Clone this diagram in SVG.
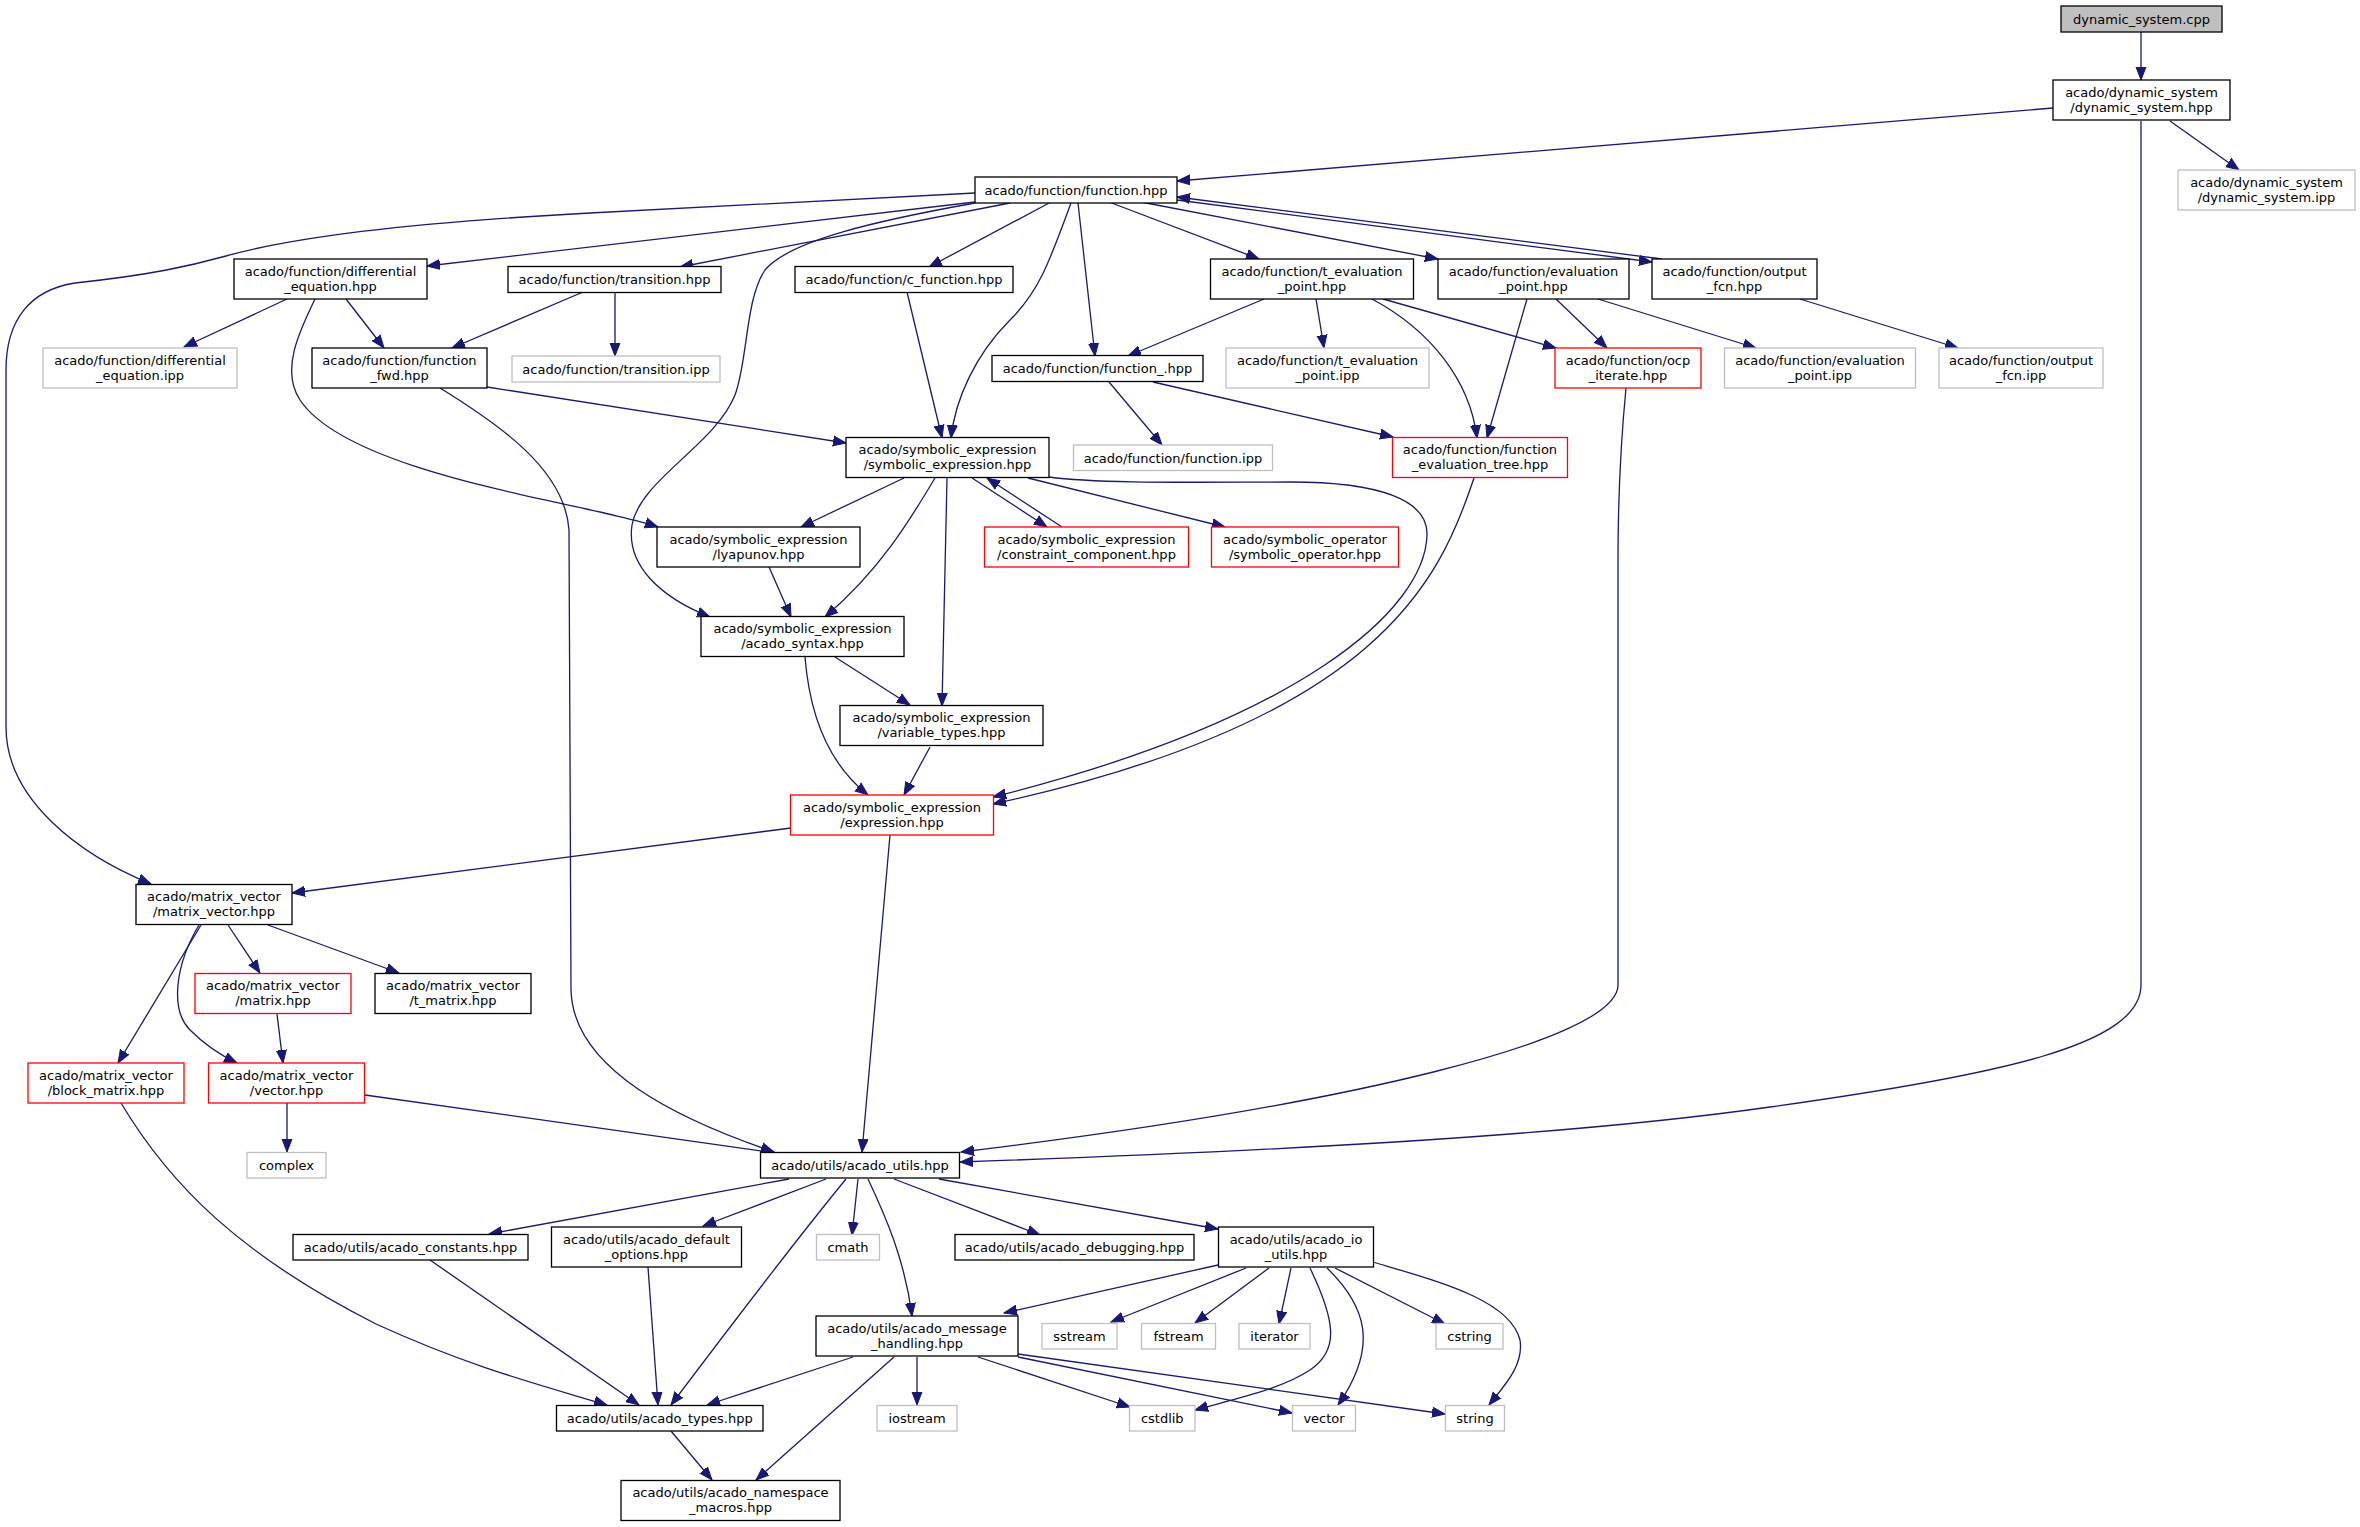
<svg xmlns="http://www.w3.org/2000/svg" width="2360" height="1527" viewBox="0 0 2360 1527">
<style>
text{font-family:"DejaVu Sans","Liberation Sans",sans-serif;font-size:13px;text-anchor:middle;fill:#000}
.n rect{fill:#fff;stroke:#000;stroke-width:1.3}
.g rect{fill:#fff;stroke:#bfbfbf;stroke-width:1.3}
.r rect{fill:#fff;stroke:#ff0000;stroke-width:1.3}
.root rect{fill:#bfbfbf;stroke:#000;stroke-width:1.3}
#edges path{fill:none;stroke:#191970;stroke-width:1.3;marker-end:url(#ah)}
</style>
<defs>
<marker id="ah" markerUnits="userSpaceOnUse" viewBox="0 -6 14 12" refX="13" refY="0" markerWidth="14" markerHeight="12" orient="auto">
<path d="M0,-5 L13,0 L0,5 Z" fill="#191970" stroke="#191970" stroke-width="1"/>
</marker>
</defs>
<rect width="2360" height="1527" fill="#fff"/>
<g id="edges">
<path d="M2141,32 L2141,80"/>
<path d="M2053,108 L1177,181"/>
<path d="M2170,121 L2239,170"/>
<path d="M2141,121 L2141,985 C2141,1045 2000,1075 1770,1107 C1560,1137 1250,1152 960,1162"/>
<path d="M975,193 L590,213 C420,222 300,235 226,256 C190,266 150,275 75,283 C30,290 6,320 6,370 L6,727 C6,800 80,855 151,884"/>
<path d="M975,202 L427,266"/>
<path d="M1010,203 L680,267"/>
<path d="M975,203 C880,220 790,240 765,270 C745,300 748,360 735,395 C715,445 640,480 632,525 C626,565 660,597 710,617"/>
<path d="M1051,202 L929,267"/>
<path d="M1071,203 C1050,260 1040,290 1010,320 C975,355 955,400 951,438"/>
<path d="M1078,203 L1095,356"/>
<path d="M1109,202 L1259,259"/>
<path d="M1141,202 L1438,259"/>
<path d="M1177,200 L1652,262"/>
<path d="M1662,259 L1177,197"/>
<path d="M287,299 L184,347"/>
<path d="M346,299 L384,348"/>
<path d="M315,299 C300,330 280,370 300,400 C340,460 500,490 600,512 C620,517 640,521 658,527"/>
<path d="M583,292 L452,348"/>
<path d="M615,292 L615,356"/>
<path d="M487,387 L846,443"/>
<path d="M440,388 C500,425 565,470 569,530 L571,990 C573,1070 680,1120 774,1152"/>
<path d="M907,292 L942,438"/>
<path d="M1109,382 L1162,445"/>
<path d="M1153,382 L1393,437"/>
<path d="M1264,299 L1128,356"/>
<path d="M1316,299 L1324,348"/>
<path d="M1372,299 C1430,330 1470,380 1477,438"/>
<path d="M1383,299 L1556,348"/>
<path d="M1527,299 L1487,438"/>
<path d="M1556,299 L1607,348"/>
<path d="M1598,299 L1756,348"/>
<path d="M1800,299 L1958,348"/>
<path d="M1626,388 C1620,450 1618,500 1618,560 L1618,985 C1618,1040 1350,1105 961,1152"/>
<path d="M904,478 L801,527"/>
<path d="M935,478 C910,520 880,570 825,617"/>
<path d="M947,478 L942,706"/>
<path d="M972,478 L1047,527"/>
<path d="M1062,527 L987,478"/>
<path d="M1028,478 L1225,527"/>
<path d="M1049,477 C1100,484 1200,482 1290,482 C1380,482 1428,500 1427,535 C1425,610 1300,720 993,797"/>
<path d="M1474,478 C1440,580 1380,720 993,804"/>
<path d="M769,567 L791,617"/>
<path d="M835,657 L910,705"/>
<path d="M805,657 C810,720 830,765 868,795"/>
<path d="M930,747 L904,795"/>
<path d="M791,828 L292,893"/>
<path d="M890,835 L862,1152"/>
<path d="M228,925 L260,973"/>
<path d="M268,925 L399,973"/>
<path d="M201,925 L118,1063"/>
<path d="M199,925 C175,965 170,1010 190,1030 C205,1045 220,1055 237,1063"/>
<path d="M277,1014 L283,1063"/>
<path d="M287,1103 L287,1152"/>
<path d="M365,1095 L776,1153"/>
<path d="M121,1103 C170,1185 240,1255 376,1324 C470,1367 540,1385 607,1405"/>
<path d="M789,1179 L489,1234"/>
<path d="M826,1179 L703,1226"/>
<path d="M846,1179 C800,1235 720,1340 671,1405"/>
<path d="M858,1179 L852,1235"/>
<path d="M868,1179 C885,1215 905,1260 912,1316"/>
<path d="M894,1179 L1040,1235"/>
<path d="M939,1179 L1218,1229"/>
<path d="M430,1260 L639,1405"/>
<path d="M648,1267 L658,1405"/>
<path d="M853,1357 L707,1405"/>
<path d="M894,1357 L756,1480"/>
<path d="M671,1431 L712,1480"/>
<path d="M917,1357 L917,1405"/>
<path d="M978,1357 L1130,1407"/>
<path d="M1018,1354 L1445,1414"/>
<path d="M1018,1357 L1292,1413"/>
<path d="M1218,1265 L1004,1313"/>
<path d="M1246,1268 L1111,1322"/>
<path d="M1269,1268 L1195,1323"/>
<path d="M1291,1268 L1279,1324"/>
<path d="M1310,1268 C1335,1320 1340,1350 1310,1370 C1280,1390 1230,1400 1195,1410"/>
<path d="M1327,1268 C1365,1305 1380,1345 1338,1405"/>
<path d="M1335,1268 L1445,1324"/>
<path d="M1373,1262 C1440,1282 1510,1300 1520,1340 C1524,1365 1505,1385 1489,1405"/>
</g>
<g id="n1" class="root"><rect x="2061" y="6" width="161" height="26"/><text x="2141.5" y="23.5">dynamic_system.cpp</text></g>
<g id="n2" class="n"><rect x="2053" y="80" width="177" height="40"/><text x="2141.5" y="96.5">acado/dynamic_system</text><text x="2141.5" y="111.5">/dynamic_system.hpp</text></g>
<g id="n3" class="g"><rect x="2178" y="170" width="177" height="40"/><text x="2266.5" y="186.5">acado/dynamic_system</text><text x="2266.5" y="201.5">/dynamic_system.ipp</text></g>
<g id="n4" class="n"><rect x="975" y="177" width="202" height="26"/><text x="1076" y="194.5">acado/function/function.hpp</text></g>
<g id="n5" class="n"><rect x="234" y="259" width="193" height="40"/><text x="330.5" y="275.5">acado/function/differential</text><text x="330.5" y="290.5">_equation.hpp</text></g>
<g id="n6" class="n"><rect x="508" y="266.5" width="213" height="26"/><text x="614.5" y="284">acado/function/transition.hpp</text></g>
<g id="n7" class="n"><rect x="795" y="266.5" width="218" height="26"/><text x="904" y="284">acado/function/c_function.hpp</text></g>
<g id="n8" class="n"><rect x="1210.5" y="259" width="203" height="40"/><text x="1312" y="275.5">acado/function/t_evaluation</text><text x="1312" y="290.5">_point.hpp</text></g>
<g id="n9" class="n"><rect x="1438" y="259" width="191" height="40"/><text x="1533.5" y="275.5">acado/function/evaluation</text><text x="1533.5" y="290.5">_point.hpp</text></g>
<g id="n10" class="n"><rect x="1652" y="259" width="165" height="40"/><text x="1734.5" y="275.5">acado/function/output</text><text x="1734.5" y="290.5">_fcn.hpp</text></g>
<g id="n11" class="g"><rect x="43" y="348" width="194" height="40"/><text x="140" y="364.5">acado/function/differential</text><text x="140" y="379.5">_equation.ipp</text></g>
<g id="n12" class="n"><rect x="312" y="348" width="175" height="40"/><text x="399.5" y="364.5">acado/function/function</text><text x="399.5" y="379.5">_fwd.hpp</text></g>
<g id="n13" class="g"><rect x="512" y="356" width="208" height="26"/><text x="616" y="373.5">acado/function/transition.ipp</text></g>
<g id="n14" class="n"><rect x="992" y="355.5" width="211" height="26"/><text x="1097.5" y="373">acado/function/function_.hpp</text></g>
<g id="n15" class="g"><rect x="1226" y="348" width="203" height="40"/><text x="1327.5" y="364.5">acado/function/t_evaluation</text><text x="1327.5" y="379.5">_point.ipp</text></g>
<g id="n16" class="r"><rect x="1555" y="348" width="146" height="40"/><text x="1628" y="364.5">acado/function/ocp</text><text x="1628" y="379.5">_iterate.hpp</text></g>
<g id="n17" class="g"><rect x="1724.5" y="348" width="191" height="40"/><text x="1820" y="364.5">acado/function/evaluation</text><text x="1820" y="379.5">_point.ipp</text></g>
<g id="n18" class="g"><rect x="1939" y="348" width="164" height="40"/><text x="2021" y="364.5">acado/function/output</text><text x="2021" y="379.5">_fcn.ipp</text></g>
<g id="n19" class="n"><rect x="846" y="437.5" width="203" height="40"/><text x="947.5" y="454">acado/symbolic_expression</text><text x="947.5" y="469">/symbolic_expression.hpp</text></g>
<g id="n20" class="g"><rect x="1073.5" y="445" width="199" height="25.5"/><text x="1173" y="462.5">acado/function/function.ipp</text></g>
<g id="n21" class="r"><rect x="1392.5" y="437.5" width="175" height="40"/><text x="1480" y="454">acado/function/function</text><text x="1480" y="469">_evaluation_tree.hpp</text></g>
<g id="n22" class="n"><rect x="657" y="527" width="203" height="40"/><text x="758.5" y="543.5">acado/symbolic_expression</text><text x="758.5" y="558.5">/lyapunov.hpp</text></g>
<g id="n23" class="r"><rect x="984.5" y="527" width="204" height="40"/><text x="1086.5" y="543.5">acado/symbolic_expression</text><text x="1086.5" y="558.5">/constraint_component.hpp</text></g>
<g id="n24" class="r"><rect x="1211.5" y="527" width="187" height="40"/><text x="1305" y="543.5">acado/symbolic_operator</text><text x="1305" y="558.5">/symbolic_operator.hpp</text></g>
<g id="n25" class="n"><rect x="701" y="616.5" width="203" height="40"/><text x="802.5" y="633">acado/symbolic_expression</text><text x="802.5" y="648">/acado_syntax.hpp</text></g>
<g id="n26" class="n"><rect x="840" y="705.5" width="203" height="40"/><text x="941.5" y="722">acado/symbolic_expression</text><text x="941.5" y="737">/variable_types.hpp</text></g>
<g id="n27" class="r"><rect x="790.5" y="795" width="203" height="40"/><text x="892" y="811.5">acado/symbolic_expression</text><text x="892" y="826.5">/expression.hpp</text></g>
<g id="n28" class="n"><rect x="136" y="884.5" width="156" height="40"/><text x="214" y="901">acado/matrix_vector</text><text x="214" y="916">/matrix_vector.hpp</text></g>
<g id="n29" class="r"><rect x="195" y="973.5" width="156" height="40"/><text x="273" y="990">acado/matrix_vector</text><text x="273" y="1005">/matrix.hpp</text></g>
<g id="n30" class="n"><rect x="375" y="973.5" width="156" height="40"/><text x="453" y="990">acado/matrix_vector</text><text x="453" y="1005">/t_matrix.hpp</text></g>
<g id="n31" class="r"><rect x="28" y="1063" width="156" height="40"/><text x="106" y="1079.5">acado/matrix_vector</text><text x="106" y="1094.5">/block_matrix.hpp</text></g>
<g id="n32" class="r"><rect x="208.5" y="1063" width="156" height="40"/><text x="286.5" y="1079.5">acado/matrix_vector</text><text x="286.5" y="1094.5">/vector.hpp</text></g>
<g id="n33" class="g"><rect x="247" y="1152.5" width="79" height="25.5"/><text x="286.5" y="1170">complex</text></g>
<g id="n34" class="n"><rect x="760.5" y="1152.5" width="199" height="25.5"/><text x="860" y="1170">acado/utils/acado_utils.hpp</text></g>
<g id="n35" class="n"><rect x="293" y="1234.5" width="235" height="25.5"/><text x="410.5" y="1252">acado/utils/acado_constants.hpp</text></g>
<g id="n36" class="n"><rect x="551.5" y="1227" width="190" height="40"/><text x="646.5" y="1243.5">acado/utils/acado_default</text><text x="646.5" y="1258.5">_options.hpp</text></g>
<g id="n37" class="g"><rect x="816.5" y="1234.5" width="63" height="25.5"/><text x="848" y="1252">cmath</text></g>
<g id="n38" class="n"><rect x="955" y="1234.5" width="239" height="25.5"/><text x="1074.5" y="1252">acado/utils/acado_debugging.hpp</text></g>
<g id="n39" class="n"><rect x="1218.5" y="1227" width="155" height="40"/><text x="1296" y="1243.5">acado/utils/acado_io</text><text x="1296" y="1258.5">_utils.hpp</text></g>
<g id="n40" class="n"><rect x="816" y="1316" width="202" height="40"/><text x="917" y="1332.5">acado/utils/acado_message</text><text x="917" y="1347.5">_handling.hpp</text></g>
<g id="n41" class="g"><rect x="1042" y="1323.5" width="75" height="25.5"/><text x="1079.5" y="1341">sstream</text></g>
<g id="n42" class="g"><rect x="1141.5" y="1323.5" width="74" height="25.5"/><text x="1178.5" y="1341">fstream</text></g>
<g id="n43" class="g"><rect x="1239" y="1323.5" width="71" height="25.5"/><text x="1274.5" y="1341">iterator</text></g>
<g id="n44" class="g"><rect x="1436" y="1323.5" width="67" height="25.5"/><text x="1469.5" y="1341">cstring</text></g>
<g id="n45" class="n"><rect x="556.5" y="1405.5" width="206.5" height="25.5"/><text x="659.75" y="1423">acado/utils/acado_types.hpp</text></g>
<g id="n46" class="g"><rect x="877" y="1405.5" width="80" height="25.5"/><text x="917" y="1423">iostream</text></g>
<g id="n47" class="g"><rect x="1129.5" y="1405.5" width="65.5" height="25.5"/><text x="1162.25" y="1423">cstdlib</text></g>
<g id="n48" class="g"><rect x="1292.5" y="1405.5" width="63" height="25.5"/><text x="1324" y="1423">vector</text></g>
<g id="n49" class="g"><rect x="1445.5" y="1405.5" width="59" height="25.5"/><text x="1475" y="1423">string</text></g>
<g id="n50" class="n"><rect x="621" y="1480.5" width="219" height="40"/><text x="730.5" y="1497">acado/utils/acado_namespace</text><text x="730.5" y="1512">_macros.hpp</text></g>
</svg>
